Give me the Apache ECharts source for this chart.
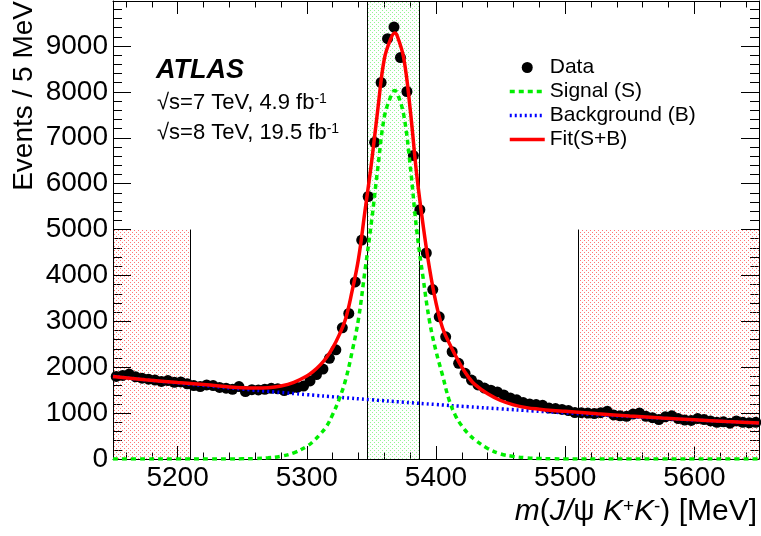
<!DOCTYPE html>
<html><head><meta charset="utf-8">
<script src="https://cdn.jsdelivr.net/npm/echarts@6/dist/echarts.min.js"></script>
<style>html,body{margin:0;padding:0;background:#fff}#c{width:761px;height:536px}</style>
</head><body><div id="c"></div>
<script>
// ---- data ----
const massBins = [
 5152.5,5157.5,5162.5,5167.5,5172.5,5177.5,5182.5,5187.5,5192.5,5197.5,
 5202.5,5207.5,5212.5,5217.5,5222.5,5227.5,5232.5,5237.5,5242.5,5247.5,
 5252.5,5257.5,5262.5,5267.5,5272.5,5277.5,5282.5,5287.5,5292.5,5297.5,
 5302.5,5307.5,5312.5,5317.5,5322.5,5327.5,5332.5,5337.5,5342.5,5347.5,
 5352.5,5357.5,5362.5,5367.5,5372.5,5377.5,5382.5,5387.5,5392.5,5397.5,
 5402.5,5407.5,5412.5,5417.5,5422.5,5427.5,5432.5,5437.5,5442.5,5447.5,
 5452.5,5457.5,5462.5,5467.5,5472.5,5477.5,5482.5,5487.5,5492.5,5497.5,
 5502.5,5507.5,5512.5,5517.5,5522.5,5527.5,5532.5,5537.5,5542.5,5547.5,
 5552.5,5557.5,5562.5,5567.5,5572.5,5577.5,5582.5,5587.5,5592.5,5597.5,
 5602.5,5607.5,5612.5,5617.5,5622.5,5627.5,5632.5,5637.5,5642.5,5647.5];
const counts = [
 1800,1820,1850,1790,1760,1740,1720,1690,1710,1670,
 1680,1640,1600,1580,1614,1600,1560,1542,1520,1578,
 1469,1510,1505,1520,1540,1530,1490,1530,1560,1590,
 1700,1840,1960,2194,2380,2859,3171,3858,4770,5720,
 6900,8204,9160,9413,8747,8008,6611,5431,4489,3693,
 3098,2663,2337,2086,1868,1720,1614,1545,1500,1460,
 1397,1330,1290,1230,1201,1185,1170,1110,1100,1080,
 1056,1012,1010,1000,990,1010,1040,960,940,930,
 980,1000,930,900,860,920,940,880,850,840,
 880,860,830,800,810,780,830,800,790,800];
const curveMass = [5150,5175,5200,5225,5240,5250,5260,5270,5280,5290,
 5300,5305,5310,5315,5320,5325,5330,5335,5340,5345,
 5350,5355,5360,5365,5368,5370,5375,5380,5385,5390,
 5395,5400,5405,5410,5415,5420,5425,5430,5440,5450,
 5460,5470,5480,5490,5500,5525,5550,5575,5600,5625,5650];
const signalValues = [0,0,0,0,0,3,10,25,60,135,
 275,385,530,700,970,1300,1720,2330,3050,4100,
 5150,6350,7450,7900,8030,7970,7500,6400,5000,3950,
 3000,2350,1830,1300,950,720,550,420,230,110,
 56,25,10,4,0,0,0,0,0,0,0];
const fitValues = [1800,1727,1665,1610,1570,1552,1548,1555,1590,1670,
 1810,1910,2040,2200,2420,2700,3053,3652,4361,5400,
 6440,7629,8718,9158,9281,9217,8738,7627,6216,5100,
 4150,3400,2860,2540,2260,2000,1790,1625,1420,1275,
 1180,1120,1085,1058,1038,985,935,893,855,818,785];
const bgMass = [5150,5175,5200,5225,5250,5275,5300,5325,5350,5375,5400,
 5425,5450,5475,5500,5525,5550,5575,5600,5625,5650];
const bgValues = [1800,1727,1656,1589,1524,1462,1402,1345,1290,1238,1187,
 1139,1092,1048,1005,964,925,887,851,816,783];
const xMajorTicks = [5200,5300,5400,5500,5600];
const yMajorTicks = [0,1000,2000,3000,4000,5000,6000,7000,8000,9000];
const signalRegion = [5347,5387];
const leftSideband = [5150,5210];
const rightSideband = [5510,5650];
const sidebandHeight = 5000;
const legendNames = ['Data','Signal (S)','Background (B)','Fit(S+B)'];

const xMinorTicks = [];
for (let v = 5160; v < 5650; v += 20) if (v % 100 !== 0) xMinorTicks.push(v);
const yMinorTicks = [];
for (let v = 200; v < 9980; v += 200) if (v % 1000 !== 0) yMinorTicks.push(v);

const zip = (a, b) => a.map((v, i) => [v, b[i]]);
function pattern(color) {
  const c = document.createElement('canvas');
  c.width = 4; c.height = 4;
  const g = c.getContext('2d');
  g.fillStyle = color;
  g.fillRect(0, 0, 1, 1);
  g.fillRect(2, 2, 1, 1);
  return {image: c, repeat: 'repeat'};
}
const FONT = 'Liberation Sans';
const XMIN = 5150, XMAX = 5650, YMIN = 0, YMAX = 9980;

function axis(pos, ticks, len, label, line, min, max) {
  return {type:'value', position:pos, min:min, max:max,
    axisLine:{show:line, onZero:false, lineStyle:{color:'#000', width:1}},
    axisTick:{show:true, inside:true, length:len, customValues:ticks, lineStyle:{color:'#000', width:1}},
    axisLabel:{show:label, customValues:ticks, color:'#000', fontFamily:FONT, fontSize:28, margin:5,
      formatter:(v) => String(v)},
    splitLine:{show:false}, minorTick:{show:false}};
}
const xAx = (p, t, l, lb, ln) => axis(p, t, l, lb, ln, XMIN, XMAX);
const yAx = (p, t, l, lb, ln) => axis(p, t, l, lb, ln, YMIN, YMAX);

const chart = echarts.init(document.getElementById('c'), null, {renderer:'canvas'});
chart.setOption({
  animation:false,
  backgroundColor:'#fff',
  grid:{left:113, right:2, top:1, bottom:77, containLabel:false},
  xAxis:[xAx('bottom', xMajorTicks, 13, true, true), xAx('top', xMajorTicks, 13, false, true),
         xAx('bottom', xMinorTicks, 6.5, false, false), xAx('top', xMinorTicks, 6.5, false, false)],
  yAxis:[yAx('left', yMajorTicks, 18, true, true), yAx('right', yMajorTicks, 18, false, true),
         yAx('left', yMinorTicks, 9, false, false), yAx('right', yMinorTicks, 9, false, false)],
  legend:{orient:'vertical', left:503, top:52, itemWidth:35, itemHeight:11, itemGap:3,
    lineStyle:{width:3.5},
    data:[{name:legendNames[0], icon:'circle'},
          {name:legendNames[1], itemStyle:{opacity:0}},
          {name:legendNames[2], itemStyle:{opacity:0}},
          {name:legendNames[3], itemStyle:{opacity:0}}],
    textStyle:{color:'#000', fontFamily:FONT, fontSize:21, lineHeight:21}},
  series:[
    {name:legendNames[2], type:'line', data:zip(bgMass, bgValues), showSymbol:false, symbol:'none', smooth:true, z:4,
      lineStyle:{color:'#0000ff', width:3.5, type:[2,3]}, itemStyle:{color:'#0000ff'},
      markArea:{silent:true, z:1, data:[
        [{xAxis:signalRegion[0], itemStyle:{color:pattern('rgba(60,235,60,0.55)')}}, {xAxis:signalRegion[1]}],
        [{xAxis:leftSideband[0], yAxis:0, itemStyle:{color:pattern('rgba(255,60,60,0.7)')}}, {xAxis:leftSideband[1], yAxis:sidebandHeight}],
        [{xAxis:rightSideband[0], yAxis:0, itemStyle:{color:pattern('rgba(255,60,60,0.7)')}}, {xAxis:rightSideband[1], yAxis:sidebandHeight}]
      ]},
      markLine:{silent:true, symbol:'none', z:2, label:{show:false}, lineStyle:{color:'#000', width:1, type:'solid'},
        data:[
          [{coord:[signalRegion[0], YMIN]}, {coord:[signalRegion[0], YMAX]}],
          [{coord:[signalRegion[1], YMIN]}, {coord:[signalRegion[1], YMAX]}],
          [{coord:[leftSideband[1], YMIN]}, {coord:[leftSideband[1], sidebandHeight]}],
          [{coord:[rightSideband[0], YMIN]}, {coord:[rightSideband[0], sidebandHeight]}]
        ]}},
    {name:legendNames[0], type:'scatter', data:zip(massBins, counts), symbol:'circle', symbolSize:11, z:3,
      itemStyle:{color:'#000', opacity:1}},
    {name:legendNames[1], type:'line', data:zip(curveMass, signalValues), showSymbol:false, symbol:'none', smooth:0.4, z:5,
      lineStyle:{color:'#00ee00', width:3.5, type:[5,4]}, itemStyle:{color:'#00ee00'}},
    {name:legendNames[3], type:'line', data:zip(curveMass, fitValues), showSymbol:false, symbol:'none', smooth:0.4, z:6,
      lineStyle:{color:'#ff0000', width:3.5}, itemStyle:{color:'#ff0000'}}
  ],
  graphic:[
    {type:'text', x:24, y:1, rotation:Math.PI/2, z:10,
      style:{text:'Events / 5 MeV', align:'right', verticalAlign:'middle', fontFamily:FONT, fontSize:28, fill:'#000'}},
    {type:'text', x:757, y:512, z:10,
      style:{text:'{i|m}({i|J/}ψ {i|K}{s|+}{i|K}{s|-}) [MeV]', align:'right', verticalAlign:'middle',
        fontFamily:FONT, fontSize:30, fill:'#000',
        rich:{i:{fontStyle:'italic', fontFamily:FONT, fontSize:30, lineHeight:30},
              s:{fontFamily:FONT, fontSize:19, lineHeight:19, verticalAlign:'top'}}}},
    {type:'text', x:156, y:71, z:10,
      style:{text:'ATLAS', verticalAlign:'middle', fontFamily:FONT, fontSize:27, fontWeight:'bold', fontStyle:'italic', fill:'#000'}},
    {type:'text', x:157, y:103, z:10,
      style:{text:'√s=7 TeV, 4.9 fb{s|-1}', verticalAlign:'middle', fontFamily:FONT, fontSize:22, fill:'#000',
        rich:{s:{fontFamily:FONT, fontSize:14, lineHeight:14, verticalAlign:'top'}}}},
    {type:'text', x:157, y:133, z:10,
      style:{text:'√s=8 TeV, 19.5 fb{s|-1}', verticalAlign:'middle', fontFamily:FONT, fontSize:22, fill:'#000',
        rich:{s:{fontFamily:FONT, fontSize:14, lineHeight:14, verticalAlign:'top'}}}}
  ]
});
</script></body></html>
